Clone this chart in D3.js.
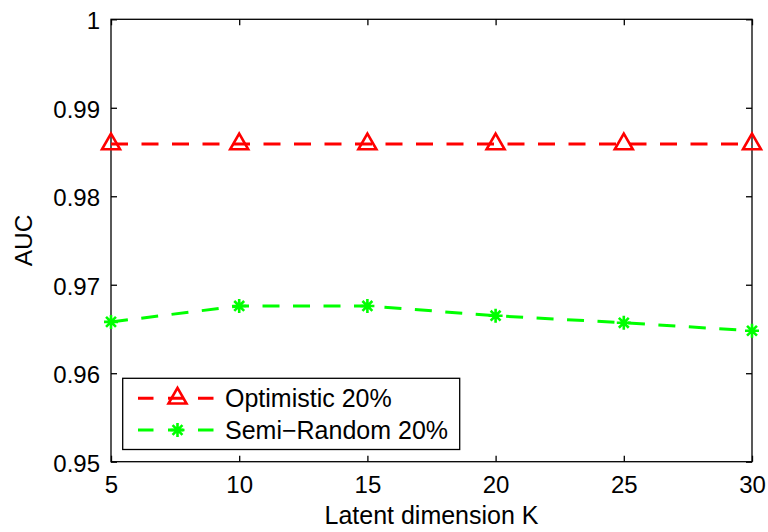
<!DOCTYPE html>
<html>
<head>
<meta charset="utf-8">
<script src="https://cdn.jsdelivr.net/npm/d3@7"></script>
<style>
  html, body { margin: 0; padding: 0; background: #fff; }
  svg { display: block; font-family: "Liberation Sans", Arial, Helvetica, sans-serif; }
</style>
</head>
<body>
<svg id="chart" width="768" height="532"></svg>
<script>
// ---- data ----
const kValues = [5, 10, 15, 20, 25, 30];
const optimistic = [0.9859, 0.9859, 0.9859, 0.9859, 0.9859, 0.9859];
const semiRandom = [0.9658, 0.9676, 0.9676, 0.9665, 0.9657, 0.9648];
const xTicks = [5, 10, 15, 20, 25, 30];
const yTicks = [0.95, 0.96, 0.97, 0.98, 0.99, 1];
const yTickLabels = ["0.95", "0.96", "0.97", "0.98", "0.99", "1"];
const seriesNames = ["Optimistic 20%", "Semi\u2212Random 20%"];
const xLabel = "Latent dimension K";
const yLabel = "AUC";

// ---- layout ----
const L = 111, R = 752, T = 19.3, B = 461.7;
const svg = d3.select("#chart");
const x = d3.scaleLinear().domain([5, 30]).range([L, R]);
const y = d3.scaleLinear().domain([0.95, 1]).range([B, T]);

const red = "#ff0000", green = "#00ff00";

// axes
const tickLen = 6;
const fmtY = d => yTickLabels[yTicks.indexOf(d)];
const gB = svg.append("g").attr("transform", `translate(0,${B})`)
  .call(d3.axisBottom(x).tickValues(xTicks).tickSizeInner(-tickLen).tickSizeOuter(0).tickPadding(14));
const gL = svg.append("g").attr("transform", `translate(${L},0)`)
  .call(d3.axisLeft(y).tickValues(yTicks).tickFormat(fmtY).tickSizeInner(-tickLen).tickSizeOuter(0).tickPadding(11));
const gT = svg.append("g").attr("transform", `translate(0,${T})`)
  .call(d3.axisTop(x).tickValues(xTicks).tickFormat("").tickSizeInner(-tickLen).tickSizeOuter(0));
const gR = svg.append("g").attr("transform", `translate(${R},0)`)
  .call(d3.axisRight(y).tickValues(yTicks).tickFormat("").tickSizeInner(-tickLen).tickSizeOuter(0));
[gB, gL, gT, gR].forEach(g => {
  g.select(".domain").remove();
  g.selectAll("line").attr("stroke", "#000").attr("stroke-width", 1.3);
  g.selectAll("text").attr("fill", "#000").attr("font-size", 24)
    .attr("font-family", "'Liberation Sans', Arial, Helvetica, sans-serif");
});
gL.selectAll("text").attr("dy", "0.4em");

// box
svg.append("rect").attr("x", L).attr("y", T).attr("width", R - L).attr("height", B - T)
  .attr("fill", "none").attr("stroke", "#000").attr("stroke-width", 1.3);

// axis labels
svg.append("text").attr("x", (L + R) / 2).attr("y", 523.5).attr("text-anchor", "middle")
  .attr("font-size", 25).attr("fill", "#000").text(xLabel);
svg.append("text").attr("transform", `translate(31.5,${(T + B) / 2}) rotate(-90)`)
  .attr("text-anchor", "middle").attr("font-size", 24.5).attr("fill", "#000").text(yLabel);

// markers
const triPath = "M0,-10.5 L9,5.2 L-9,5.2 Z";
function starPath(s) {
  const d = s * 0.7071;
  return `M${-s},0L${s},0M0,${-s}L0,${s}M${-d},${-d}L${d},${d}M${-d},${d}L${d},${-d}`;
}

const line = d3.line().x(d => x(d[0])).y(d => y(d[1]));
const dash = "17,13.5";

const optData = kValues.map((k, i) => [k, optimistic[i]]);
const semiData = kValues.map((k, i) => [k, semiRandom[i]]);

svg.append("path").datum(optData).attr("d", line).attr("fill", "none")
  .attr("stroke", red).attr("stroke-width", 3).attr("stroke-dasharray", dash);
svg.append("path").datum(semiData).attr("d", line).attr("fill", "none")
  .attr("stroke", green).attr("stroke-width", 3).attr("stroke-dasharray", dash);

svg.selectAll(".tri").data(optData).enter().append("path")
  .attr("transform", d => `translate(${x(d[0])},${y(d[1])})`)
  .attr("d", triPath).attr("fill", "none").attr("stroke", red).attr("stroke-width", 2.6)
  .attr("stroke-linejoin", "miter");
svg.selectAll(".star").data(semiData).enter().append("path")
  .attr("transform", d => `translate(${x(d[0])},${y(d[1])})`)
  .attr("d", starPath(7)).attr("fill", "none").attr("stroke", green).attr("stroke-width", 2.6);

// legend
const lg = svg.append("g");
lg.append("rect").attr("x", 122.7).attr("y", 378.3).attr("width", 337).attr("height", 71.2)
  .attr("fill", "#fff").attr("stroke", "#000").attr("stroke-width", 1.3);
const rows = [
  { name: seriesNames[0], color: red, yy: 398.3, marker: triPath },
  { name: seriesNames[1], color: green, yy: 430, marker: starPath(7) }
];
rows.forEach(r => {
  lg.append("line").attr("x1", 138).attr("x2", 215).attr("y1", r.yy).attr("y2", r.yy)
    .attr("stroke", r.color).attr("stroke-width", 3).attr("stroke-dasharray", "15.5,14.5");
  lg.append("path").attr("transform", `translate(177.5,${r.yy})`).attr("d", r.marker)
    .attr("fill", "none").attr("stroke", r.color).attr("stroke-width", 2.6);
  lg.append("text").attr("x", 225).attr("y", r.yy + 8.5).attr("font-size", 25)
    .attr("fill", "#000").text(r.name);
});
</script>
</body>
</html>
